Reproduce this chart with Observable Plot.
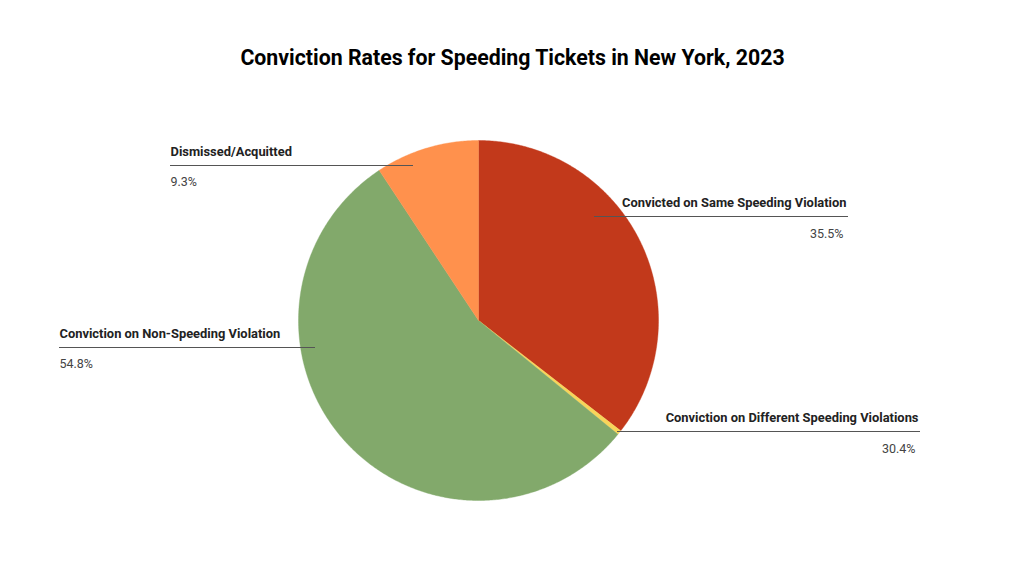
<!DOCTYPE html>
<html>
<head>
<meta charset="utf-8">
<script src="https://cdn.jsdelivr.net/npm/d3@7"></script>
<script src="https://cdn.jsdelivr.net/npm/@observablehq/plot@0.6"></script>
<style>
  html, body { margin: 0; padding: 0; background: #fff; }
  #chart { width: 1024px; height: 576px; }
</style>
</head>
<body>
<div id="chart"></div>
<script>
// ---- Data ----
const title = "Conviction Rates for Speeding Tickets in New York, 2023";
const categories = [
  "Convicted on Same Speeding Violation",
  "Conviction on Different Speeding Violations",
  "Conviction on Non-Speeding Violation",
  "Dismissed/Acquitted"
];
const shares = [35.5, 0.4, 54.8, 9.3];           // slice sizes (percent of pie)
const shareLabels = ["35.5%", "30.4%", "54.8%", "9.3%"]; // labels as printed
const colors = ["#c2391b", "#f7d55a", "#82a96b", "#ff914d"];

// ---- Layout (pixels) ----
const W = 1024, H = 576;
const CX = 478, CY = 320, R = 180;
const leaderLayout = [
  {x1: 594, x2: 848, y: 216, side: "right"},
  {x1: 617, x2: 920, y: 431, side: "right"},
  {x1: 59,  x2: 315, y: 347, side: "left"},
  {x1: 170, x2: 413, y: 165, side: "left"}
];
const toX = px => (px - CX) / R;
const toY = py => (CY - py) / R;

// ---- Build slice polygons ----
const total = d3.sum(shares);
const poly = [];
let acc = 0;
categories.forEach((cat, i) => {
  const a0 = acc / total * 2 * Math.PI;
  acc += shares[i];
  const a1 = acc / total * 2 * Math.PI;
  poly.push({cat, x: 0, y: 0});
  const n = Math.max(2, Math.ceil((a1 - a0) / (Math.PI / 360)));
  for (let k = 0; k <= n; k++) {
    const a = a0 + (a1 - a0) * k / n;
    poly.push({cat, x: Math.sin(a), y: Math.cos(a)});
  }
  poly.push({cat, x: 0, y: 0});
});

const leaders = categories.map((cat, i) => ({
  cat,
  label: shareLabels[i],
  x1: toX(leaderLayout[i].x1),
  x2: toX(leaderLayout[i].x2),
  y: toY(leaderLayout[i].y),
  tx: leaderLayout[i].side === "left" ? toX(leaderLayout[i].x1) : toX(leaderLayout[i].x2 - 2),
  anchor: leaderLayout[i].side === "left" ? "start" : "end"
}));
const leftL = leaders.filter(d => d.anchor === "start");
const rightL = leaders.filter(d => d.anchor === "end");

const chart = Plot.plot({
  width: W,
  height: H,
  margin: 0,
  style: {fontFamily: "Roboto, sans-serif", background: "#fff"},
  x: {domain: [toX(0), toX(W)], axis: null},
  y: {domain: [toY(H), toY(0)], axis: null},
  color: {domain: categories, range: colors},
  marks: [
    Plot.line(poly, {x: "x", y: "y", z: "cat", fill: "cat", stroke: "cat", strokeWidth: 0.4, curve: "linear"}),
    Plot.ruleY(leaders, {y: "y", x1: "x1", x2: "x2", stroke: "#555", strokeWidth: 1}),
    // category names
    Plot.text(leftL, {x: "tx", y: "y", text: "cat", textAnchor: "start", dy: -14, fontSize: 12.9, fontWeight: "bold", fill: "#222"}),
    Plot.text(rightL, {x: "tx", y: "y", text: "cat", textAnchor: "end", dy: -14, fontSize: 12.9, fontWeight: "bold", fill: "#222"}),
    // percentages
    Plot.text(leftL, {x: "tx", y: "y", text: "label", textAnchor: "start", dy: 16, fontSize: 12.5, fill: "#444"}),
    Plot.text(rightL, {x: "tx", y: "y", text: "label", textAnchor: "end", dy: 17, dx: -3, fontSize: 12.5, fill: "#444"}),
    // title
    Plot.text([title], {frameAnchor: "top", lineAnchor: "middle", dy: 58, text: d => d, fontSize: 21.3, fontWeight: "bold", fill: "#000"})
  ]
});
document.getElementById("chart").appendChild(chart);
</script>
</body>
</html>
